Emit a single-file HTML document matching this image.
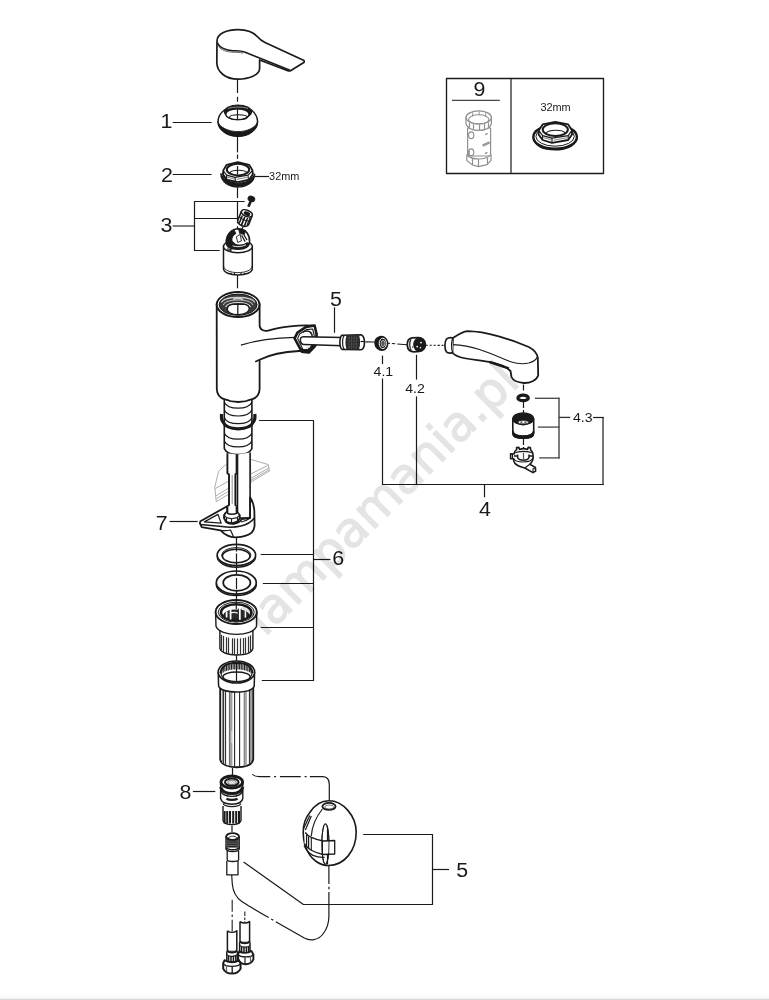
<!DOCTYPE html>
<html lang="pl"><head><meta charset="utf-8"><title>lampamania.pl</title>
<style>
html,body{margin:0;padding:0;background:#fff;}
body{width:769px;height:1000px;overflow:hidden;position:relative;font-family:"Liberation Sans",sans-serif;}
svg{position:absolute;left:0;top:0;display:block;will-change:transform;}
svg text{font-family:"Liberation Sans",sans-serif;}
.bar{position:absolute;left:0;top:994px;width:769px;height:6px;background:linear-gradient(#fdfdfd 0,#fbfbfb 66%,#f4f4f4 67%,#f0f0f0 83%,#dadada 84%,#d6d6d6 100%);}
</style></head><body>
<svg width="769" height="1000" viewBox="0 0 769 1000" stroke-linecap="butt" stroke-linejoin="round">
<g id="handle">
<path d="M217,41 C217,33.5 227,29.6 238,29.6 C247,29.6 253.5,32 257.5,36.8 C259.5,39.2 261.5,40.8 265,42.4 L304,60.6 L304.2,62.2 L290.5,70.8 L288.5,71 L259.6,60 L259.6,68.5 C259.6,75 249,79.2 238,79.2 C226,79.2 216.8,72.5 216.8,62 Z" stroke="#1a1a1a" stroke-width="1.7" fill="#fff" />
<path d="M217.3,42.5 C219,47.5 226,50.4 233,50.7 C238,50.9 241,50.6 244.5,52 L290,70.3" stroke="#1a1a1a" stroke-width="1.6" fill="none" />
<path d="M218.5,46.5 C221,50 227,52 233,52.2 C237,52.3 240,52.2 243,53.2" stroke="#1a1a1a" stroke-width="0.7" fill="none" />
</g>
<line x1="237.5" y1="79.5" x2="237.5" y2="93" stroke="#1a1a1a" stroke-width="1.2" />
<line x1="237.5" y1="96.8" x2="237.5" y2="101.8" stroke="#1a1a1a" stroke-width="1.2" />
<g id="p1">
<path d="M225,109.5 C221,112.5 218,117 218,121.5 C218,130 228,136.3 238,136.3 C248,136.3 257.6,130 257.6,121.5 C257.6,117 254.5,112.5 251,109.5" stroke="#1a1a1a" stroke-width="1.5" fill="#fff" />
<path d="M218,121.5 C218,130 228,136.3 238,136.3 C248,136.3 257.6,130 257.6,121.5 C256,127.6 247,131.6 238,131.6 C229,131.6 219.5,127.6 218,121.5 Z" stroke="#1a1a1a" stroke-width="0.8" fill="#1a1a1a" />
<ellipse cx="238" cy="111.8" rx="13.6" ry="6.8" stroke="#1a1a1a" stroke-width="1.2" fill="#1a1a1a" />
<path d="M228,108.6 C232,106.6 244,106.6 248,108.6" stroke="#bbb" stroke-width="0.7" fill="none" />
<ellipse cx="237.4" cy="114.3" rx="11.6" ry="5.4" stroke="#1a1a1a" stroke-width="1.3" fill="#fff" />
<ellipse cx="238.4" cy="117.2" rx="8.8" ry="2.4" stroke="#1a1a1a" stroke-width="1.1" fill="none" />
<line x1="237.5" y1="108.5" x2="237.5" y2="119" stroke="#1a1a1a" stroke-width="1.2" />
</g>
<line x1="237.5" y1="136.4" x2="237.5" y2="152.4" stroke="#1a1a1a" stroke-width="1.2" />
<line x1="237.5" y1="154.6" x2="237.5" y2="158.8" stroke="#1a1a1a" stroke-width="1.2" />
<text transform="translate(160.4,128) scale(1.07,1)" font-size="20" fill="#1a1a1a" text-anchor="start" >1</text>
<line x1="172.7" y1="122.5" x2="211.6" y2="122.5" stroke="#1a1a1a" stroke-width="1.2" />
<g id="p2">
<path d="M220.8,173.5 C220.8,182 229,187 238,187 C247,187 254.7,182 254.7,174 C253.4,179.6 246.5,183.2 238,183.2 C229.5,183.2 222.4,179.6 220.8,173.5 Z" stroke="#1a1a1a" stroke-width="1.2" fill="#1a1a1a" />
<path d="M222.4,172.6 C222.8,178.6 229.5,181.6 238,181.6 C246.5,181.6 252.8,178.6 253.2,172.6" stroke="#1a1a1a" stroke-width="1.2" fill="none" />
<path d="M223.2,170.5 L226.6,164.8 L237.8,162.2 L249.2,164.8 L252.6,170.5 L252.6,174.6 L249.2,179.6 L237.8,182 L226.6,179.6 L223.2,174.6 Z" stroke="#1a1a1a" stroke-width="1.7" fill="#fff" />
<path d="M223.2,170.5 L226.6,175.2 L235,177.4 L248,175.2 L252.6,170.5" stroke="#1a1a1a" stroke-width="1.2" fill="none" />
<line x1="226.6" y1="175.2" x2="226.6" y2="179.6" stroke="#1a1a1a" stroke-width="1.1" />
<line x1="235" y1="177.4" x2="235.4" y2="181.6" stroke="#1a1a1a" stroke-width="1.1" />
<line x1="248" y1="175.2" x2="248.4" y2="179.6" stroke="#1a1a1a" stroke-width="1.1" />
<path d="M227,177 L234.5,179.2 M236.5,179.4 L247.5,177.2" stroke="#666" stroke-width="0.8" fill="none" />
<ellipse cx="238" cy="169.6" rx="11.2" ry="5.8" stroke="#1a1a1a" stroke-width="2.0" fill="#fff" />
<path d="M229.8,172.6 C232,169.4 244.6,169.4 247,172.6" stroke="#1a1a1a" stroke-width="1.1" fill="none" />
<line x1="237.5" y1="166" x2="237.5" y2="174.6" stroke="#1a1a1a" stroke-width="1.2" />
</g>
<text transform="translate(160.9,182) scale(1.07,1)" font-size="20" fill="#1a1a1a" text-anchor="start" >2</text>
<line x1="172.7" y1="174.5" x2="211.6" y2="174.5" stroke="#1a1a1a" stroke-width="1.2" />
<line x1="254.8" y1="176.5" x2="269" y2="176.5" stroke="#1a1a1a" stroke-width="1.2" />
<text transform="translate(269.1,179.6) scale(1.07,1)" font-size="10.2" fill="#1a1a1a" text-anchor="start" >32mm</text>
<line x1="237.5" y1="187" x2="237.5" y2="198" stroke="#1a1a1a" stroke-width="1.2" />
<text transform="translate(160.4,232.3) scale(1.07,1)" font-size="20" fill="#1a1a1a" text-anchor="start" >3</text>
<line x1="172.7" y1="226" x2="194.1" y2="226" stroke="#333" stroke-width="1.25" />
<path d="M244.7,201.5 L194.5,201.5 L194.5,250.5 L219.7,250.5" stroke="#1a1a1a" stroke-width="1.2" fill="none" />
<line x1="194.1" y1="218.5" x2="237.4" y2="218.5" stroke="#1a1a1a" stroke-width="1.2" />
<line x1="237.5" y1="201.2" x2="237.5" y2="218.3" stroke="#1a1a1a" stroke-width="1.2" />
<line x1="237.5" y1="218.3" x2="237.5" y2="229" stroke="#1a1a1a" stroke-width="1.2" stroke-dasharray="5 3"/>
<g id="p3">
<path d="M250.8,201 L248.4,206.8" stroke="#1a1a1a" stroke-width="2.6" fill="none" />
<ellipse cx="251.4" cy="198.9" rx="3.4" ry="2.6" stroke="#1a1a1a" stroke-width="1" fill="#1a1a1a" transform="rotate(20 251.4 198.9)"/>
<g transform="rotate(22 245 218)">
<path d="M239.2,213 L239.2,222.5 C239.2,224.8 242,226.4 245,226.4 C248,226.4 250.8,224.8 250.8,222.5 L250.8,213" stroke="#1a1a1a" stroke-width="1.6" fill="#fff" />
<ellipse cx="245" cy="213" rx="5.8" ry="3.1" stroke="#1a1a1a" stroke-width="1.6" fill="#fff" />
<ellipse cx="245.2" cy="213.2" rx="2.8" ry="1.5" stroke="#1a1a1a" stroke-width="1.2" fill="#1a1a1a" />
<line x1="241.6" y1="216.6" x2="241.6" y2="225.4" stroke="#1a1a1a" stroke-width="1.5" />
<line x1="244.4" y1="217.2" x2="244.4" y2="226.2" stroke="#1a1a1a" stroke-width="1.7" />
<line x1="247.4" y1="217" x2="247.4" y2="225.8" stroke="#1a1a1a" stroke-width="1.5" />
<line x1="249.6" y1="216" x2="249.6" y2="224" stroke="#1a1a1a" stroke-width="1.1" />
<path d="M239.2,218.6 C241,220.6 249,220.6 250.8,218.6" stroke="#1a1a1a" stroke-width="1.1" fill="none" />
</g>
<line x1="243" y1="227" x2="241" y2="231" stroke="#1a1a1a" stroke-width="1.2" />
<path d="M223.5,246 L223.5,268.5 C223.5,272.5 230,275 237.9,275 C246,275 252.3,272.5 252.3,268.5 L252.3,246" stroke="#1a1a1a" stroke-width="1.5" fill="#fff" />
<path d="M223.5,266 C224,270 230,272.6 237.9,272.6 C246,272.6 251.8,270 252.3,266" stroke="#1a1a1a" stroke-width="0.9" fill="none" />
<line x1="231" y1="272.8" x2="231" y2="274.6" stroke="#1a1a1a" stroke-width="1.2" />
<line x1="234.5" y1="273" x2="234.5" y2="275" stroke="#1a1a1a" stroke-width="1.2" />
<line x1="241" y1="273" x2="241" y2="275" stroke="#1a1a1a" stroke-width="1.2" />
<line x1="244.5" y1="272.8" x2="244.5" y2="274.6" stroke="#1a1a1a" stroke-width="1.2" />
<ellipse cx="237.9" cy="246.5" rx="14.4" ry="6.2" stroke="#1a1a1a" stroke-width="1.5" fill="#fff" />
<path d="M226.2,243 C226,235 231,229 238.5,228.8 C246,229 249.8,235 249.6,242 C249,247 244,249.3 238,249.3 C231,249.3 226.6,247 226.2,243 Z" stroke="#1a1a1a" stroke-width="1.6" fill="#fff" />
<path d="M226.4,242 C226.4,236.5 229.5,231.5 234,229.8 L236,233.5 C233,235 231.5,238 232,241 L236,244.6 C240,245.6 244.5,244.8 247,242.6 L249.4,243.4 C248,247.6 243,249 238,249 C231.5,249 227,246.6 226.4,242 Z" stroke="#1a1a1a" stroke-width="0.8" fill="#1a1a1a" />
<path d="M238.6,229 L245.6,230.4 L244.4,234.6 L239.6,233.6 Z" stroke="#1a1a1a" stroke-width="0.8" fill="#1a1a1a" />
<path d="M236.4,236.6 L240.2,234.4 L241.4,241 L237.6,242.4 Z" stroke="#1a1a1a" stroke-width="0.9" fill="#fff" />
<path d="M241.6,235.4 L245.2,241.6 M243.8,234.6 L247,240" stroke="#1a1a1a" stroke-width="1.2" fill="none" />
<path d="M232.6,245.8 C236,247.2 242,247 246,244.8" stroke="#fff" stroke-width="0.9" fill="none" />
<path d="M228,247.4 L228,250.4 L231,251.4" stroke="#1a1a1a" stroke-width="1.1" fill="none" />
<path d="M229.6,248.6 L231.4,250.6" stroke="#1a1a1a" stroke-width="1.8" fill="none" />
</g>
<line x1="237.5" y1="275" x2="237.5" y2="288.3" stroke="#1a1a1a" stroke-width="1.2" />
<g id="body">
<path d="M216.7,304 L216.8,389 C217,395 220,398 224.6,399.3 C230,401.7 234,402 238.2,402 C242.4,402 246.6,401.7 251.9,399.3 C256.6,398 259.4,395 259.6,389 L259.6,359.8 C270,354.5 285,351.6 299,351 L301.8,351 L308.8,352.3 L314.2,345.5 L316.6,333.8 L313.5,325.7 C300,324.6 280,327 268,330.6 C263,331.5 259.6,329.5 259.6,325 L259.6,304 Z" stroke="#1a1a1a" stroke-width="1.8" fill="#fff" />
<path d="M259.6,359.8 C258,360.5 256.5,361.2 255.2,361.8" stroke="#1a1a1a" stroke-width="1.6" fill="none" />
<path d="M240.9,345.2 C255,340.5 275,337.6 295.5,337.3" stroke="#1a1a1a" stroke-width="1.3" fill="none" />
<path d="M314.6,325.5 L316.6,334.5 L315,346.2 L308.8,352.5 L301.8,351.7 L294.6,338.4 L297.5,332.6 L306.1,326.9 Z" stroke="#1a1a1a" stroke-width="2.6" fill="#fff" />
<path d="M312.6,329 L314.2,335 L312.8,344.6 L308,350 L303,349.4 L297.6,338.6 L299.6,334 L306.4,329.6 Z" stroke="#1a1a1a" stroke-width="1.1" fill="#fff" />
<path d="M315,346.2 L308.8,352.5 L301.8,351.7 L299,346.4 C301,349 304,350.4 307,349.6 C310,348.6 312.6,345.6 313.6,342 Z" stroke="#1a1a1a" stroke-width="0.8" fill="#1a1a1a" />
<path d="M302.6,332.4 C305,330.6 308.6,330.6 310.6,332.4 C312,334 312.4,336 312.2,337" stroke="#1a1a1a" stroke-width="1.6" fill="none" />
<path d="M306,347.8 L309.6,346.8" stroke="#ddd" stroke-width="1.4" fill="none" />
<path d="M342.5,337.6 L303.5,336.8 C300.6,336.8 300.2,338.6 300.4,340.6 C300.6,343 301.4,344.4 304,344.4 L342.5,345.8" stroke="#1a1a1a" stroke-width="1.5" fill="#fff" />
<ellipse cx="238.1" cy="304.6" rx="21.4" ry="12.5" stroke="#1a1a1a" stroke-width="2.0" fill="#fff" />
<ellipse cx="238.1" cy="304.7" rx="19.0" ry="10.6" stroke="#1a1a1a" stroke-width="1.0" fill="#3a3a3a" />
<path d="M221.5,302.5 C224,295.6 252,295.6 254.8,302.5" stroke="#d0d0d0" stroke-width="1.2" fill="none" />
<path d="M223.2,305 C226,298.4 250,298.4 253,305" stroke="#b5b5b5" stroke-width="1.1" fill="none" />
<path d="M225.6,307 C228.6,301 247.6,301 250.6,307" stroke="#e2e2e2" stroke-width="1.2" fill="none" />
<path d="M233,299.4 C236,298.2 240,298.2 243.2,299.4" stroke="#ccc" stroke-width="1.6" fill="none" />
<path d="M227.4,309.2 C227.4,306.4 229.6,304.8 232.6,304.4 L243.6,304.2 C246.8,304.6 249,306.2 249.2,308.8 C249.2,311.6 245,314.6 238.2,314.6 C231.4,314.6 227.4,312 227.4,309.2 Z" stroke="#1a1a1a" stroke-width="1.2" fill="#fff" />
<line x1="237.8" y1="303" x2="237.8" y2="314.6" stroke="#1a1a1a" stroke-width="1.3" />
</g>
<g id="hoseend">
<path d="M342,335.2 C339.2,336.8 339.2,347.6 342,349.4 L361,349.8 C365.6,348.4 365.6,336.4 361,334.8 Z" stroke="#1a1a1a" stroke-width="1.6" fill="#fff" />
<path d="M344.4,335.4 C342,337 342,347.6 344.4,349.2" stroke="#1a1a1a" stroke-width="1.2" fill="none" />
<path d="M347,335 C345,337 345,347.8 347,349.6 L358.4,349.8 C360.6,348 360.6,336.6 358.4,334.8 Z" fill="#262626"/>
<line x1="349.2" y1="335.4" x2="349.2" y2="349.4" stroke="#777" stroke-width="0.4" />
<line x1="351.6" y1="335.4" x2="351.6" y2="349.4" stroke="#777" stroke-width="0.4" />
<line x1="354" y1="335.4" x2="354" y2="349.4" stroke="#777" stroke-width="0.4" />
<line x1="356.4" y1="335.4" x2="356.4" y2="349.4" stroke="#777" stroke-width="0.4" />
<line x1="346.4" y1="338" x2="359.4" y2="338" stroke="#777" stroke-width="0.35" />
<line x1="346.4" y1="341" x2="359.4" y2="341" stroke="#777" stroke-width="0.35" />
<line x1="346.4" y1="344" x2="359.4" y2="344" stroke="#777" stroke-width="0.35" />
<line x1="346.4" y1="347" x2="359.4" y2="347" stroke="#777" stroke-width="0.35" />
<line x1="360.5" y1="341.5" x2="364.5" y2="341.5" stroke="#1a1a1a" stroke-width="1.2" />
</g>
<text transform="translate(330,305.8) scale(1.07,1)" font-size="20" fill="#1a1a1a" text-anchor="start" >5</text>
<line x1="334.5" y1="307.3" x2="334.5" y2="332.8" stroke="#1a1a1a" stroke-width="1.2" />
<line x1="365.4" y1="341.9" x2="374.7" y2="342" stroke="#1a1a1a" stroke-width="1.2" />
<g id="p41">
<path d="M380,336.6 C376.4,337.6 374.7,340.6 375,343.6 C375.4,347.6 378.6,350.4 382.4,350.2 C386,350 387.9,346.6 387.7,343 C387.4,338.8 384,335.8 380,336.6 Z" stroke="#1a1a1a" stroke-width="1.4" fill="#1a1a1a" />
<ellipse cx="382.8" cy="343.4" rx="3.6" ry="5.2" stroke="#fff" stroke-width="1.0" fill="#1a1a1a" />
<ellipse cx="383" cy="343.4" rx="2.0" ry="3.2" stroke="#bbb" stroke-width="0.9" fill="#555" />
</g>
<path d="M387.9,343.2 L407,344.8" stroke="#1a1a1a" stroke-width="1.1" stroke-dasharray="2 2 3.4 2 12 0" fill="none"/>
<g id="p42">
<path d="M412,337.8 C408.4,338.4 407,342 407.3,345.6 C407.7,349.6 410.4,351.8 414,351.8 L419.6,351.4 C423.6,350.8 425.6,347.6 425.3,344 C424.9,340 422,337.4 418,337.6 Z" stroke="#1a1a1a" stroke-width="1.8" fill="#fff" />
<ellipse cx="419.2" cy="344.6" rx="5.4" ry="6.6" stroke="#1a1a1a" stroke-width="1.2" fill="#1a1a1a" />
<path d="M411,339.4 C409.2,342 409.2,348 411.4,350.6" stroke="#1a1a1a" stroke-width="1.2" fill="none" />
<circle cx="417.2" cy="346.6" r="0.9" fill="#fff"/><circle cx="421" cy="342.6" r="0.9" fill="#fff"/><circle cx="420.4" cy="347.8" r="0.8" fill="#fff"/><circle cx="412.6" cy="347" r="0.7" fill="#333"/>
</g>
<path d="M425.6,345.2 L443.4,345.4" stroke="#1a1a1a" stroke-width="1.1" stroke-dasharray="2.2 1.8" fill="none"/>
<line x1="382.5" y1="355.6" x2="382.5" y2="364.1" stroke="#1a1a1a" stroke-width="1.2" />
<text transform="translate(373.6,376) scale(1.07,1)" font-size="13.2" fill="#1a1a1a" text-anchor="start" >4.1</text>
<line x1="382.5" y1="378.5" x2="382.5" y2="484.3" stroke="#1a1a1a" stroke-width="1.2" />
<line x1="416.5" y1="354.8" x2="416.5" y2="379.6" stroke="#1a1a1a" stroke-width="1.2" />
<text transform="translate(405.2,392.8) scale(1.07,1)" font-size="13.2" fill="#1a1a1a" text-anchor="start" >4.2</text>
<line x1="416.5" y1="396.4" x2="416.5" y2="484.3" stroke="#1a1a1a" stroke-width="1.2" />
<line x1="381.9" y1="484.5" x2="603.6" y2="484.5" stroke="#1a1a1a" stroke-width="1.2" />
<line x1="603" y1="417" x2="603" y2="485" stroke="#2c2c2c" stroke-width="1.3" />
<line x1="593.2" y1="417.5" x2="603.6" y2="417.5" stroke="#1a1a1a" stroke-width="1.2" />
<line x1="484.5" y1="484" x2="484.5" y2="497.3" stroke="#1a1a1a" stroke-width="1.2" />
<text transform="translate(479,516.3) scale(1.07,1)" font-size="20" fill="#1a1a1a" text-anchor="start" >4</text>
<g id="shower">
<path d="M453,338 C457,335.4 462.4,331.6 467.4,331.2 C486,331.4 512,339.5 528.8,347 C533.5,349.5 537,353 537.8,357.5 L538.2,375.5 C536.5,380.5 530,383.2 523.9,383 C518,382.6 513,380.5 511.5,377 L510.5,371 C506,366.5 498,363.5 489.3,361.9 C478,360 466,359 459.7,357 C455.8,355.8 453.4,354.2 452.4,352.4 Z" stroke="#1a1a1a" stroke-width="1.8" fill="#fff" />
<path d="M452.6,344.6 C460,345 471,346.8 479.4,349.5 C492,353.5 502,358.5 511.5,362 C518,364 524,364 528.8,363 C533.5,361.8 536.5,359.5 537.6,356.5" stroke="#1a1a1a" stroke-width="1.1" fill="none" />
<path d="M489.3,361.9 C496,364.5 503,366.5 509,368.5" stroke="#1a1a1a" stroke-width="2.2" fill="none" />
<path d="M453.2,338.2 C451.4,337.4 448.2,337.6 446.4,339.2 C444.4,341.6 444.4,349.4 446.4,351.8 C448.2,353.4 451.4,353.4 452.8,352.6" stroke="#1a1a1a" stroke-width="1.7" fill="#fff" />
<path d="M453,338.2 C451.2,341 451.2,349.8 452.8,352.6" stroke="#1a1a1a" stroke-width="1.3" fill="none" />
</g>
<line x1="523.5" y1="384.5" x2="523.5" y2="392.5" stroke="#1a1a1a" stroke-width="1.2" stroke-dasharray="6 2"/>
<ellipse cx="523.1" cy="397.9" rx="5.2" ry="2.7" stroke="#1a1a1a" stroke-width="3.2" fill="#fff" />
<line x1="523.5" y1="402" x2="523.5" y2="413" stroke="#1a1a1a" stroke-width="1.2" stroke-dasharray="6 2"/>
<g id="aer">
<path d="M512.8,418.6 L512.8,433.2 C512.8,436.4 517,438.3 523.2,438.3 C529.4,438.3 533.7,436.4 533.7,433.2 L533.7,418.6" stroke="#1a1a1a" stroke-width="1.6" fill="#fff" />
<path d="M512.8,430.6 C513.5,434 517.5,435.8 523.2,435.8 C529,435.8 533,434 533.7,430.6 L533.7,433.2 C533.7,436.4 529.4,438.3 523.2,438.3 C517,438.3 512.8,436.4 512.8,433.2 Z" stroke="#1a1a1a" stroke-width="1.2" fill="#1a1a1a" />
<ellipse cx="523.2" cy="418.8" rx="10.4" ry="5.9" stroke="#1a1a1a" stroke-width="1.4" fill="#1a1a1a" />
<ellipse cx="523.3" cy="422.2" rx="5.2" ry="1.6" stroke="#1a1a1a" stroke-width="0.6" fill="#fff" />
<ellipse cx="521.4" cy="422.3" rx="1.1" ry="0.7" fill="#444"/><ellipse cx="525.4" cy="422.3" rx="1.1" ry="0.7" fill="#444"/>
</g>
<line x1="523.5" y1="439" x2="523.5" y2="448.5" stroke="#1a1a1a" stroke-width="1.2" stroke-dasharray="6 2"/>
<g id="key">
<path d="M514,454 C514.4,451.6 515.6,450.2 516.6,449.6 L516.6,447.6 L518.8,447.4 L519.6,449.4 C521.6,448.6 525.4,448.6 527.4,449.4 L528.2,447.4 L530.4,447.6 L530.6,449.8 C532.4,451 533.2,454 533.2,457 C533.2,460 531.8,462.6 529.8,464.2 L535.4,467.4 L535.6,471 L533,472.6 L524.8,468 C520,466.8 517,465.6 515,463.4 C513.6,461.6 513.4,459.8 513.6,458.8 L510.6,458.8 L510.6,453.8 Z" stroke="#1a1a1a" stroke-width="1.6" fill="#fff" />
<path d="M515.4,453 C518,450.8 529,450.8 531.8,453" stroke="#1a1a1a" stroke-width="1.2" fill="none" />
<path d="M517.6,454.4 L517.6,457.6 C518.6,459.6 521,460.2 523.4,460.2 C526,460.2 528,459.6 529,457.6 L529,454.4" stroke="#1a1a1a" stroke-width="1.5" fill="none" />
<path d="M514,456 L517.6,456 M529,456 L533,456" stroke="#1a1a1a" stroke-width="1.3" fill="none" />
<path d="M513.8,458.6 C515.6,463.2 530.8,463.2 533,458" stroke="#1a1a1a" stroke-width="1.1" fill="none" />
<path d="M524.8,468 L529.8,464.2 M533,472.6 L533,468.8 L535.4,467.4" stroke="#1a1a1a" stroke-width="1.1" fill="none" />
<line x1="512.5" y1="454" x2="512.5" y2="458.8" stroke="#1a1a1a" stroke-width="1.2" />
<line x1="523.5" y1="452.6" x2="523.5" y2="459.6" stroke="#555" stroke-width="1.2" />
</g>
<line x1="534.9" y1="398.3" x2="559.6" y2="398.3" stroke="#444" stroke-width="1.3" />
<line x1="537.9" y1="427.1" x2="559.6" y2="427.1" stroke="#444" stroke-width="1.3" />
<line x1="539.2" y1="457.9" x2="559.6" y2="457.9" stroke="#444" stroke-width="1.3" />
<line x1="559" y1="397.7" x2="559" y2="458.5" stroke="#444" stroke-width="1.4" />
<line x1="559" y1="417.4" x2="570.2" y2="417.4" stroke="#333" stroke-width="1.3" />
<text transform="translate(573,421.9) scale(1.07,1)" font-size="13.2" fill="#1a1a1a" text-anchor="start" >4.3</text>
<g id="shank">
<path d="M227.4,463.2 L218.7,471 L214.8,487 L216.2,501.7 L229.6,493.6 L229.6,463.2 Z" stroke="#a4a4a4" stroke-width="0.9" fill="#fff" />
<path d="M215.4,488.6 L229.4,480.6 M216,495.8 L229.4,487.6 M216.2,498.8 L229.6,490.6" stroke="#a4a4a4" stroke-width="0.9" fill="none" />
<path d="M250.4,459.3 L268.4,464.6 L269.4,471 L250.9,482.2 Z" stroke="#a4a4a4" stroke-width="0.9" fill="#fff" />
<path d="M250.9,473.9 L267.6,465.6 M250.9,478.3 L268.9,467.8 M250.9,480.4 L269.2,469.6" stroke="#a4a4a4" stroke-width="0.9" fill="none" />
<path d="M224.3,400 L224.3,448.6 C228,456.6 248,456.6 251.9,448.6 L251.9,400" stroke="#1a1a1a" stroke-width="1.6" fill="#fff" />
<path d="M224.3,402.2 C228,410.2 248,410.2 251.9,402.2" stroke="#1a1a1a" stroke-width="1.2" fill="none" />
<path d="M224.3,410 C228,418 248,418 251.9,410" stroke="#1a1a1a" stroke-width="1.2" fill="none" />
<path d="M224.3,417.7 C228,425.7 248,425.7 251.9,417.7" stroke="#1a1a1a" stroke-width="1.2" fill="none" />
<path d="M224.3,433.2 C228,441.2 248,441.2 251.9,433.2" stroke="#1a1a1a" stroke-width="1.2" fill="none" />
<path d="M224.3,440.9 C228,448.9 248,448.9 251.9,440.9" stroke="#1a1a1a" stroke-width="1.2" fill="none" />
<path d="M221.6,414 C221.2,417 221.4,419.6 222.6,421.4 C225,426.6 231,428.8 238.2,428.8 C245.4,428.8 251.4,426.6 253.8,421.4 C255,419.6 255.2,417 254.8,414" stroke="#1a1a1a" stroke-width="3.2" fill="none" />
<path d="M225.6,421.4 C228,424.4 232.6,425.6 238.2,425.6 C243.8,425.6 248.4,424.4 250.8,421.4" stroke="#eee" stroke-width="0.8" fill="none" />
<path d="M224.6,399.3 C230,401.7 234,402 238.2,402 C242.4,402 246.6,401.7 251.9,399.3" stroke="#1a1a1a" stroke-width="1.8" fill="none" />
<path d="M250.1,452.6 L250.1,518 L237.5,518 L237.5,454.6" stroke="#1a1a1a" stroke-width="1.6" fill="#fff" />
<path d="M227.4,453.2 L227.4,473.2 L229,474.5 L229,505 L227.4,506.5 L227.4,511 L236.6,511 L236.6,506.5 L235.4,505 L235.4,474.5 L236.6,473.2 L236.6,454.6" stroke="#1a1a1a" stroke-width="1.9" fill="#fff" />
<line x1="232.2" y1="475" x2="232.2" y2="504" stroke="#777" stroke-width="0.8" />
</g>
<path d="M259.1,420.5 L313.5,420.5 L313.5,680.5 L261.8,680.5" stroke="#1a1a1a" stroke-width="1.2" fill="none" />
<line x1="260.7" y1="554.5" x2="313.5" y2="554.5" stroke="#1a1a1a" stroke-width="1.2" />
<line x1="262.8" y1="583.5" x2="313.5" y2="583.5" stroke="#1a1a1a" stroke-width="1.2" />
<line x1="260.7" y1="627.5" x2="313.5" y2="627.5" stroke="#1a1a1a" stroke-width="1.2" />
<line x1="313.5" y1="559.5" x2="330.4" y2="559.5" stroke="#1a1a1a" stroke-width="1.2" />
<text transform="translate(332.3,565.4) scale(1.07,1)" font-size="20" fill="#1a1a1a" text-anchor="start" >6</text>
<g id="p7">
<path d="M199.8,523.2 L200.4,521.3 L227.1,506.3 L227.1,512 C223,514 223,520 228,522.5 C233,524.5 240,523.5 241.5,519 L250.1,518 L250.1,497.2 C252.5,501 254.4,507 254.4,512.8 L254.6,525.8 C254,531 250,534.5 245.9,535.6 C243,536.8 239,537.3 235.5,537.3 C232.5,537.3 229.5,536.6 227.7,535.6 C225,534.5 222.5,532.5 220.6,530.4 L201.7,527.1 Z" stroke="#1a1a1a" stroke-width="1.8" fill="#fff" />
<path d="M200.4,524.6 L222,526.6 C228,527.4 236,527.2 241,526 C246,524.8 251,522.5 254.4,518" stroke="#1a1a1a" stroke-width="1.5" fill="none" />
<path d="M204.3,521.9 L218,514.4 L221.2,523.2 Z" stroke="#1a1a1a" stroke-width="1.2" fill="none" />
<path d="M250.1,518 C247,520.5 244,521.5 241,522" stroke="#1a1a1a" stroke-width="1.2" fill="none" />
<path d="M220.6,530.4 C224,530.8 228,530.6 230.5,530 L233.5,536.8" stroke="#1a1a1a" stroke-width="1.2" fill="none" />
<path d="M224.2,515 L226.4,512 L231.6,511 L237.2,512 L239.8,515 L239.8,518.4 L237.2,521.6 L231.6,523.2 L226.4,521.8 L224.2,518.6 Z" stroke="#1a1a1a" stroke-width="1.7" fill="#fff" />
<path d="M224.2,515 L226.4,517.6 L231.6,518.8 L237.2,517.6 L239.8,515" stroke="#1a1a1a" stroke-width="1.1" fill="none" />
<line x1="226.5" y1="517.6" x2="226.5" y2="521.8" stroke="#1a1a1a" stroke-width="1.2" />
<line x1="231.5" y1="518.8" x2="231.5" y2="523.2" stroke="#1a1a1a" stroke-width="1.2" />
<line x1="237.5" y1="517.6" x2="237.5" y2="521.6" stroke="#1a1a1a" stroke-width="1.2" />
<path d="M225.2,521 C227.6,524.6 236,524.6 238.8,521.2" stroke="#1a1a1a" stroke-width="1.8" fill="none" />
<path d="M227.6,506.5 L227.6,513.4 C229,514.6 234.8,514.6 236.4,513.4 L236.4,506.5" stroke="#1a1a1a" stroke-width="1.5" fill="#fff"/>
</g>
<text transform="translate(155.7,529.6) scale(1.07,1)" font-size="20" fill="#1a1a1a" text-anchor="start" >7</text>
<line x1="169.6" y1="521.5" x2="197.7" y2="521.5" stroke="#1a1a1a" stroke-width="1.2" />
<g id="wash">
<ellipse cx="236.4" cy="556.6" rx="19.2" ry="10.6" stroke="#1a1a1a" stroke-width="1.4" fill="#fff" />
<ellipse cx="236.4" cy="555" rx="19.2" ry="10.6" stroke="#1a1a1a" stroke-width="1.6" fill="#fff" />
<ellipse cx="236.3" cy="555.2" rx="14.6" ry="7.6" stroke="#1a1a1a" stroke-width="1.0" fill="#fff" />
<ellipse cx="236.2" cy="556" rx="13.8" ry="6.8" stroke="#1a1a1a" stroke-width="1.6" fill="#fff" />
<ellipse cx="236.3" cy="584.6" rx="20.0" ry="11.0" stroke="#1a1a1a" stroke-width="1.5" fill="#fff" />
<ellipse cx="236.3" cy="582.6" rx="20.0" ry="11.6" stroke="#1a1a1a" stroke-width="1.7" fill="#fff" />
<ellipse cx="236.8" cy="582.8" rx="13.6" ry="8.0" stroke="#1a1a1a" stroke-width="1.8" fill="#fff" />
</g>
<line x1="236.5" y1="537.6" x2="236.5" y2="551.6" stroke="#1a1a1a" stroke-width="1.2" />
<line x1="236.5" y1="553.4" x2="236.5" y2="575" stroke="#1a1a1a" stroke-width="1.2" />
<line x1="236.5" y1="578" x2="236.5" y2="589.2" stroke="#1a1a1a" stroke-width="1.2" />
<line x1="236.5" y1="590.8" x2="236.5" y2="600.2" stroke="#1a1a1a" stroke-width="1.2" />
<g id="nut6">
<path d="M219.9,630 L219.9,648.3 C221,652.6 228,655 236.4,655 C245,655 251.8,652.6 252.9,648.3 L252.9,630" stroke="#1a1a1a" stroke-width="1.4" fill="#fff" />
<line x1="221.5" y1="634.9" x2="221.5" y2="651.2" stroke="#333" stroke-width="1.2" />
<line x1="223.5" y1="635.9" x2="223.5" y2="652.2" stroke="#333" stroke-width="1.2" />
<line x1="226.5" y1="637.2" x2="226.5" y2="653.5" stroke="#333" stroke-width="1.2" />
<line x1="228.5" y1="637.7" x2="228.5" y2="654.0" stroke="#333" stroke-width="1.2" />
<line x1="232.5" y1="638.3" x2="232.5" y2="654.6" stroke="#333" stroke-width="1.2" />
<line x1="234.5" y1="638.4" x2="234.5" y2="654.7" stroke="#333" stroke-width="1.2" />
<line x1="237.5" y1="638.5" x2="237.5" y2="654.8" stroke="#333" stroke-width="1.2" />
<line x1="240.5" y1="638.3" x2="240.5" y2="654.6" stroke="#333" stroke-width="1.2" />
<line x1="243.5" y1="638.0" x2="243.5" y2="654.3" stroke="#333" stroke-width="1.2" />
<line x1="245.5" y1="637.5" x2="245.5" y2="653.8" stroke="#333" stroke-width="1.2" />
<line x1="248.5" y1="636.5" x2="248.5" y2="652.8" stroke="#333" stroke-width="1.2" />
<line x1="250.5" y1="635.3" x2="250.5" y2="651.6" stroke="#333" stroke-width="1.2" />
<path d="M215.6,612 L216,626.3 C218,631.6 227,634.4 236.4,634.4 C246,634.4 254.5,631.6 256.5,626.3 L256.8,612" stroke="#1a1a1a" stroke-width="1.4" fill="#fff" />
<ellipse cx="236.2" cy="612" rx="20.6" ry="12" stroke="#1a1a1a" stroke-width="1.9" fill="#fff" />
<ellipse cx="236.2" cy="612.2" rx="18.0" ry="10.0" stroke="#1a1a1a" stroke-width="1.0" fill="none" />
<ellipse cx="236.2" cy="612.4" rx="15.2" ry="8.2" stroke="#1a1a1a" stroke-width="2.6" fill="#fff" />
<path d="M223.4,615.6 C226,608.4 246.6,608.4 249.4,615.6 C246.6,620.6 226,620.6 223.4,615.6 Z" stroke="#1a1a1a" stroke-width="1.2" fill="#2a2a2a" />
<path d="M226.6,611.4 L226.6,617.6 M230.6,609.2 L230.6,619.4" stroke="#fff" stroke-width="1.7" fill="none" />
<path d="M239.8,608.8 L239.8,619.8" stroke="#fff" stroke-width="2.6" fill="none" />
<path d="M245.4,611 L245.4,617.6" stroke="#fff" stroke-width="1.5" fill="none" />
<path d="M229.6,613.6 C232,612 236,612 238,613.4" stroke="#eee" stroke-width="1.1" fill="none" />
<line x1="238.4" y1="608.6" x2="238.4" y2="620" stroke="#1a1a1a" stroke-width="0.9" />
<line x1="241.2" y1="608.8" x2="241.2" y2="619.8" stroke="#1a1a1a" stroke-width="0.9" />
<line x1="236.3" y1="601" x2="236.3" y2="609" stroke="#1a1a1a" stroke-width="1.2" />
</g>
<line x1="236.5" y1="655" x2="236.5" y2="661.4" stroke="#1a1a1a" stroke-width="1.2" />
<g id="sleeve">
<path d="M220.2,684 L220.2,759.4 C221,764.6 228,767.2 236.6,767.2 C245.4,767.2 252.4,764.6 253.2,759.4 L253.2,684" stroke="#1a1a1a" stroke-width="1.9" fill="#fff" />
<line x1="222.5" y1="688.8" x2="222.5" y2="762.8" stroke="#999" stroke-width="1.2" />
<line x1="223.5" y1="689.4" x2="223.5" y2="763.6" stroke="#333" stroke-width="1.2" />
<line x1="225.5" y1="690.1" x2="225.5" y2="764.5" stroke="#333" stroke-width="1.2" />
<line x1="231" y1="691.2" x2="231" y2="765.9" stroke="#a0a0a0" stroke-width="2.8" />
<line x1="229.4" y1="691.0" x2="229.4" y2="765.6" stroke="#444" stroke-width="0.8" />
<line x1="234.6" y1="691.6" x2="234.6" y2="766.3" stroke="#222" stroke-width="1.1" />
<line x1="239.6" y1="691.5" x2="239.6" y2="766.3" stroke="#222" stroke-width="1.1" />
<line x1="245.6" y1="690.6" x2="245.6" y2="765.2" stroke="#a8a8a8" stroke-width="2.6" />
<line x1="244.2" y1="690.9" x2="244.2" y2="765.5" stroke="#555" stroke-width="0.8" />
<line x1="249.5" y1="689.6" x2="249.5" y2="763.8" stroke="#333" stroke-width="1.2" />
<line x1="251" y1="688.5" x2="251" y2="762.5" stroke="#666" stroke-width="1.2" />
<line x1="232" y1="731" x2="232" y2="743" stroke="#fff" stroke-width="0.9" />
<path d="M218.2,672 L218.6,686 C220,690 228,692 236.4,692 C245,692 252.8,690 254.2,686 L254.6,672" stroke="#1a1a1a" stroke-width="1.5" fill="#fff" />
<ellipse cx="236.4" cy="672" rx="18.2" ry="11" stroke="#1a1a1a" stroke-width="1.6" fill="#fff" />
<path d="M220.6,673 C221.4,666 228,662.8 236.4,662.8 C245,662.8 251.6,666 252.4,673" stroke="#1a1a1a" stroke-width="2.2" fill="none" />
<line x1="221.6" y1="669.7" x2="221.6" y2="673.7" stroke="#222" stroke-width="1.15" />
<line x1="223.24" y1="667.8" x2="223.24" y2="672.4" stroke="#222" stroke-width="1.15" />
<line x1="224.88" y1="666.6" x2="224.88" y2="671.5" stroke="#222" stroke-width="1.15" />
<line x1="226.52" y1="665.7" x2="226.52" y2="670.9" stroke="#222" stroke-width="1.15" />
<line x1="228.16" y1="665.0" x2="228.16" y2="670.4" stroke="#222" stroke-width="1.15" />
<line x1="229.8" y1="664.5" x2="229.8" y2="670.0" stroke="#222" stroke-width="1.15" />
<line x1="231.44" y1="664.1" x2="231.44" y2="669.7" stroke="#222" stroke-width="1.15" />
<line x1="233.08" y1="663.8" x2="233.08" y2="669.6" stroke="#222" stroke-width="1.15" />
<line x1="234.72" y1="663.7" x2="234.72" y2="669.4" stroke="#222" stroke-width="1.15" />
<line x1="236.36" y1="663.6" x2="236.36" y2="669.4" stroke="#222" stroke-width="1.15" />
<line x1="238.0" y1="663.6" x2="238.0" y2="669.4" stroke="#222" stroke-width="1.15" />
<line x1="239.64" y1="663.8" x2="239.64" y2="669.5" stroke="#222" stroke-width="1.15" />
<line x1="241.28" y1="664.0" x2="241.28" y2="669.7" stroke="#222" stroke-width="1.15" />
<line x1="242.92" y1="664.4" x2="242.92" y2="670.0" stroke="#222" stroke-width="1.15" />
<line x1="244.56" y1="664.9" x2="244.56" y2="670.3" stroke="#222" stroke-width="1.15" />
<line x1="246.2" y1="665.6" x2="246.2" y2="670.8" stroke="#222" stroke-width="1.15" />
<line x1="247.84" y1="666.4" x2="247.84" y2="671.4" stroke="#222" stroke-width="1.15" />
<line x1="249.48" y1="667.6" x2="249.48" y2="672.2" stroke="#222" stroke-width="1.15" />
<line x1="251.12" y1="669.3" x2="251.12" y2="673.4" stroke="#222" stroke-width="1.15" />
<path d="M220.8,673 C222,679.5 229,681.6 236.6,681.6 C244,681.6 251,679.5 252.2,673" stroke="#1a1a1a" stroke-width="1.2" fill="none" />
<ellipse cx="236.6" cy="676.8" rx="13.6" ry="4.8" stroke="#1a1a1a" stroke-width="1.4" fill="#fff" />
</g>
<line x1="236.5" y1="662" x2="236.5" y2="682" stroke="#1a1a1a" stroke-width="1.2" />
<g id="p8">
<path d="M223,806 L223,820.5 C224,823.4 228,824.6 232,824.6 C236,824.6 240,823.4 241,820.5 L241,806" stroke="#1a1a1a" stroke-width="1.4" fill="#fff" />
<line x1="224.6" y1="811" x2="224.6" y2="823.6" stroke="#1c1c1c" stroke-width="2.0" />
<line x1="227.2" y1="811" x2="227.2" y2="823.6" stroke="#1c1c1c" stroke-width="2.0" />
<line x1="230" y1="811" x2="230" y2="823.6" stroke="#1c1c1c" stroke-width="2.0" />
<line x1="233.2" y1="811" x2="233.2" y2="823.6" stroke="#1c1c1c" stroke-width="2.0" />
<line x1="236.2" y1="811" x2="236.2" y2="823.6" stroke="#1c1c1c" stroke-width="2.0" />
<line x1="239" y1="811" x2="239" y2="823.6" stroke="#1c1c1c" stroke-width="2.0" />
<path d="M220.6,782 L220.6,798.5 C221.5,802.6 226.5,804.2 232,804.2 C237.5,804.2 242,802.6 242.8,798.5 L242.8,782" stroke="#1a1a1a" stroke-width="1.4" fill="#fff" />
<path d="M220.6,787 C222,792 227,793.6 232,793.6 C237,793.6 241.5,792 242.8,787" stroke="#1a1a1a" stroke-width="3.0" fill="none" />
<path d="M220.8,790.5 C222,795 227,796.4 232,796.4 C237,796.4 241.5,795 242.8,790.5" stroke="#1a1a1a" stroke-width="1.2" fill="none" />
<path d="M226.5,798.8 C229,800.2 235,800.2 237.5,798.8" stroke="#1a1a1a" stroke-width="2.4" fill="none" />
<path d="M223,803.5 C225,807.6 239,807.6 241,803.5" stroke="#1a1a1a" stroke-width="1.2" fill="none" />
<ellipse cx="231.8" cy="782" rx="10.8" ry="6.0" stroke="#1a1a1a" stroke-width="2.8" fill="#fff" />
<ellipse cx="231.8" cy="782.2" rx="6.8" ry="3.6" stroke="#1a1a1a" stroke-width="2.0" fill="#fff" />
<ellipse cx="232" cy="782.4" rx="4.2" ry="2.2" stroke="#555" stroke-width="0.8" fill="#ddd" />
</g>
<line x1="232.5" y1="768" x2="232.5" y2="775.5" stroke="#1a1a1a" stroke-width="1.2" />
<text transform="translate(179.4,798.8) scale(1.07,1)" font-size="20" fill="#1a1a1a" text-anchor="start" >8</text>
<line x1="192.9" y1="791.5" x2="215.3" y2="791.5" stroke="#1a1a1a" stroke-width="1.2" />
<line x1="232" y1="825.5" x2="232" y2="832" stroke="#1a1a1a" stroke-width="1.2" />
<g id="hose2">
<path d="M226.8,861 L226.8,874.8 L238,874.8 L238,861" stroke="#1a1a1a" stroke-width="1.3" fill="#fff" />
<path d="M227.2,851 L227.2,860 C228,862 237.6,862 238.6,860 L238.6,851" stroke="#1a1a1a" stroke-width="1.3" fill="#fff" />
<path d="M226,836.5 L226,849 C227,852.4 238.2,852.4 239.2,849 L239.2,836.5" stroke="#1a1a1a" stroke-width="1.4" fill="#fff" />
<rect x="226.6" y="838.6" width="12" height="9" fill="#262626"/>
<line x1="226.8" y1="841" x2="238.6" y2="841" stroke="#aaa" stroke-width="0.5" />
<line x1="226.8" y1="843.2" x2="238.6" y2="843.2" stroke="#aaa" stroke-width="0.5" />
<line x1="226.8" y1="845.4" x2="238.6" y2="845.4" stroke="#aaa" stroke-width="0.5" />
<path d="M226,847.6 C228,850.4 237.2,850.4 239.2,847.6" stroke="#1a1a1a" stroke-width="1.6" fill="none" />
<ellipse cx="232.6" cy="836.5" rx="6.4" ry="3.4" stroke="#1a1a1a" stroke-width="1.9" fill="#fff" />
<path d="M228.4,838 C230,835.6 235.4,835.6 237,838" stroke="#1a1a1a" stroke-width="0.9" fill="none" />
</g>
<path d="M243.6,862 L303.4,904.5 L432.5,904.5 L432.5,834.5 L363.2,834.5" stroke="#1a1a1a" stroke-width="1.2" fill="none" />
<line x1="432.7" y1="869.5" x2="449" y2="869.5" stroke="#1a1a1a" stroke-width="1.2" />
<text transform="translate(456.3,877.3) scale(1.07,1)" font-size="20" fill="#1a1a1a" text-anchor="start" >5</text>
<path d="M252.2,774.4 C254,775.8 256.5,776.7 259.3,776.7 L323,776.7 C327,777 329.3,780 329.3,784.5 L329.3,800" stroke="#1a1a1a" stroke-width="1.2" fill="none" stroke-dasharray="18.5 3.9 1.9 3.9 20.8 3.9 2 3.2 80"/>
<path d="M328.9,866 L328.9,916 C328.9,923 327,929 323,934 C318,940.6 310,941 304.3,938 C290,930 250,907 241.8,901.4 C236,897.5 233,892 232.3,884 L231.7,875" stroke="#1a1a1a" stroke-width="1.2" fill="none" stroke-dasharray="18 2.8 2.4 2.8 97 2.8 2.4 2.8 100"/>
<g id="egg">
<path d="M329,800.8 C343,800.8 356.2,816 356.2,832 C356.2,851 344,865.5 328.5,865.5 C320,865.5 312,860 308,852 C305,847 303.4,840 303.2,833 C303,824 306,817 309.8,812.5 C314,806 321,800.8 329,800.8 Z" stroke="#1a1a1a" stroke-width="1.6" fill="#fff" />
<ellipse cx="329" cy="806.4" rx="6.6" ry="3.5" stroke="#1a1a1a" stroke-width="1.8" fill="#fff" />
<ellipse cx="329.2" cy="807" rx="4.4" ry="2.0" stroke="#555" stroke-width="0.8" fill="none" />
<path d="M322.4,809 C316,817 312,826 311.3,836" stroke="#1a1a1a" stroke-width="1.2" fill="none" />
<path d="M309.8,815.5 L303.6,828.5 M311.3,816 L305.4,830" stroke="#1a1a1a" stroke-width="1.2" fill="none" />
<ellipse cx="325.4" cy="844.1" rx="3.6" ry="20.3" stroke="#1a1a1a" stroke-width="1.1" fill="none" />
<line x1="327.5" y1="826.5" x2="327.5" y2="864.5" stroke="#1a1a1a" stroke-width="1.2" />
<path d="M305.2,832.5 C307,835 309,836.6 311.3,837.4 C315,839 319,840.4 323.3,841 L334.7,840.5 L334.7,854 L322.8,854.5 C318.5,853.6 314.5,852 311.3,850.3 C308.5,848.6 306,846.4 304.4,843.6" stroke="#1a1a1a" stroke-width="1.3" fill="#fff" />
<path d="M311.3,837.4 L311.3,850.3" stroke="#1a1a1a" stroke-width="1.1" fill="none" />
<path d="M322.4,841 L322.4,854.4" stroke="#1a1a1a" stroke-width="1.2" fill="none" />
<path d="M306.6,835 L306.6,846.6 M308.6,836.4 L308.6,848.4" stroke="#1a1a1a" stroke-width="1.2" fill="none" />
<path d="M304,845.5 C306,850 309.5,853.5 313,855.4 C317,857.2 321,857.6 324.6,857.4" stroke="#1a1a1a" stroke-width="1.2" fill="none" />
<ellipse cx="325.4" cy="844.1" rx="3.6" ry="20.3" stroke="#1a1a1a" stroke-width="0.9" fill="none" />
</g>
<path d="M232.2,899.8 L232.2,931.6" stroke="#333" stroke-width="1.2" stroke-dasharray="12 2.8 2.4 2.8 20" fill="none"/>
<path d="M244.8,911.5 L244.8,922.6" stroke="#333" stroke-width="1.2" stroke-dasharray="4.4 1.6 2.4 1.4 4" fill="none"/>
<g id="hoses">
<path d="M240,921.6 L240,942.4 L249.6,942.4 L249.6,921.6 C247,923.6 242.6,923.6 240,921.6" stroke="#1a1a1a" stroke-width="1.5" fill="#fff" />
<path d="M239.6,942.4 L239.6,953 L250,953 L250,942.4" stroke="#1a1a1a" stroke-width="1.5" fill="#fff" />
<path d="M239.8,941.4 C242,944 247.6,944 249.8,941.4" stroke="#1a1a1a" stroke-width="2.0" fill="none" />
<path d="M240,945.6 C242,947.6 247.6,947.6 250,945.6" stroke="#1a1a1a" stroke-width="1.2" fill="none" />
<line x1="241.6" y1="947" x2="241.6" y2="953.4" stroke="#1a1a1a" stroke-width="1.5" />
<line x1="244" y1="947" x2="244" y2="953.4" stroke="#1a1a1a" stroke-width="1.5" />
<line x1="246.4" y1="947" x2="246.4" y2="953.4" stroke="#1a1a1a" stroke-width="1.5" />
<line x1="248.6" y1="947" x2="248.6" y2="953.4" stroke="#1a1a1a" stroke-width="1.5" />
<path d="M238.2,954 L239.4,951.2 C242,953.4 248,953.4 251.4,951 L253.4,954.4 L253.4,959.4 C252,962.6 248.6,964.2 245.6,964.2 C242.4,964.2 239.6,962.6 238.2,959.4 Z" stroke="#1a1a1a" stroke-width="1.9" fill="#fff" />
<path d="M238.2,954.4 C240,957.8 251.6,957.8 253.4,954.4" stroke="#1a1a1a" stroke-width="1.2" fill="none" />
<line x1="245" y1="957.2" x2="245" y2="964" stroke="#1a1a1a" stroke-width="1.2" />
<line x1="250.5" y1="956" x2="250.5" y2="962.4" stroke="#666" stroke-width="1.2" />
<path d="M227.4,930.8 L227.4,951.6 L236.8,951.6 L236.8,930.8 C234,932.8 230,932.8 227.4,930.8" stroke="#1a1a1a" stroke-width="1.5" fill="#fff" />
<path d="M226.8,951.6 L226.8,962 L237.4,962 L237.4,951.6" stroke="#1a1a1a" stroke-width="1.5" fill="#fff" />
<path d="M227.2,950.6 C229,953.2 235,953.2 237,950.6" stroke="#1a1a1a" stroke-width="2.0" fill="none" />
<path d="M227,954.8 C229,956.8 235,956.8 237.4,954.8" stroke="#1a1a1a" stroke-width="1.2" fill="none" />
<line x1="228.6" y1="956" x2="228.6" y2="962.4" stroke="#1a1a1a" stroke-width="1.5" />
<line x1="231" y1="956" x2="231" y2="962.4" stroke="#1a1a1a" stroke-width="1.5" />
<line x1="233.4" y1="956" x2="233.4" y2="962.4" stroke="#1a1a1a" stroke-width="1.5" />
<line x1="235.8" y1="956" x2="235.8" y2="962.4" stroke="#1a1a1a" stroke-width="1.5" />
<path d="M223.2,963.2 L224.6,960.2 C228,962.8 235.6,962.8 238.8,960.2 L240.6,963.4 L240.6,968.6 C239,972 235.4,973.6 232,973.6 C228.6,973.6 224.8,972 223.2,968.6 Z" stroke="#1a1a1a" stroke-width="2.0" fill="#fff" />
<path d="M223.2,963.6 C225.4,967.2 238.4,967.2 240.6,963.6" stroke="#1a1a1a" stroke-width="1.2" fill="none" />
<line x1="232.2" y1="966.4" x2="232.2" y2="973.4" stroke="#1a1a1a" stroke-width="1.3" />
<line x1="226.5" y1="965.2" x2="226.5" y2="971.4" stroke="#666" stroke-width="1.2" />
</g>
<g id="box">
<rect x="446.5" y="78.5" width="157" height="95" fill="none" stroke="#1a1a1a" stroke-width="1.35"/>
<line x1="511" y1="78.8" x2="511" y2="173" stroke="#2a2a2a" stroke-width="1.3" />
<text transform="translate(473.5,96.2) scale(1.07,1)" font-size="20" fill="#1a1a1a" text-anchor="start" >9</text>
<line x1="452" y1="100.4" x2="499.8" y2="100.4" stroke="#444" stroke-width="1.1" />
<text transform="translate(540.4,110.8) scale(1.07,1)" font-size="10.2" fill="#1a1a1a" text-anchor="start" >32mm</text>
<path d="M467.6,128 L467.6,156 L490.6,156 L490.6,128 Z" stroke="#909090" stroke-width="1.2" fill="#fff" />
<path d="M466.8,155 L466.8,160.6 L472.5,165 L478.5,166.7 L487,164.6 L491,160.4 L491,154.6 C488,157.6 484,159 478.8,159 C473.5,159 469.5,157.6 466.8,155 Z" stroke="#909090" stroke-width="1.2" fill="#fff" />
<line x1="472.5" y1="158.6" x2="472.5" y2="165" stroke="#909090" stroke-width="1.2" />
<line x1="478.5" y1="159.2" x2="478.5" y2="166.7" stroke="#909090" stroke-width="1.2" />
<line x1="487.5" y1="158" x2="487.5" y2="164.6" stroke="#909090" stroke-width="1.2" />
<path d="M466,117.5 L466,124 C467.5,128.2 472.5,130.4 478.8,130.4 C485,130.4 490,128.2 491.4,124 L491.4,117.5" stroke="#909090" stroke-width="1.2" fill="#fff" />
<ellipse cx="478.7" cy="117.4" rx="12.7" ry="6.5" stroke="#909090" stroke-width="1.3" fill="#fff" />
<ellipse cx="478.8" cy="119.4" rx="10.2" ry="4.6" stroke="#909090" stroke-width="1.1" fill="none" />
<line x1="472.6" y1="112.4" x2="472.6" y2="116.2" stroke="#909090" stroke-width="0.9" />
<line x1="479.2" y1="111.4" x2="479.2" y2="115.2" stroke="#909090" stroke-width="0.9" />
<line x1="485.6" y1="112.8" x2="485.6" y2="116.6" stroke="#909090" stroke-width="0.9" />
<line x1="469.5" y1="122.6" x2="469.5" y2="127.6" stroke="#909090" stroke-width="1.2" />
<line x1="473.5" y1="124.2" x2="473.5" y2="129.6" stroke="#909090" stroke-width="1.2" />
<line x1="479.5" y1="124.6" x2="479.5" y2="130.2" stroke="#909090" stroke-width="1.2" />
<line x1="484.5" y1="124" x2="484.5" y2="129.6" stroke="#909090" stroke-width="1.2" />
<line x1="488.5" y1="122.4" x2="488.5" y2="127.6" stroke="#909090" stroke-width="1.2" />
<ellipse cx="471.2" cy="135.2" rx="2.6" ry="3.4" stroke="#909090" stroke-width="1.2" fill="none" />
<ellipse cx="471.2" cy="152.3" rx="2.6" ry="3.4" stroke="#909090" stroke-width="1.2" fill="none" />
<path d="M469.2,150.5 C468.4,152 468.6,154 469.6,155" stroke="#909090" stroke-width="1.6" fill="none" />
<path d="M485.4,134.6 L487.6,133.4 M485,153.6 L487.4,152.4" stroke="#909090" stroke-width="1.6" fill="none" />
<path d="M482.6,145.6 L489.6,142.4" stroke="#9a9a9a" stroke-width="2.6" fill="none" />
<ellipse cx="555.1" cy="137" rx="21.8" ry="11.8" stroke="#1a1a1a" stroke-width="2.4" fill="#fff" />
<path d="M533.6,139 C536,146.5 545,149.6 555.1,149.6 C565,149.6 574.5,146.5 576.8,139" stroke="#1a1a1a" stroke-width="1.8" fill="none" />
<ellipse cx="555.1" cy="136.4" rx="19.2" ry="9.8" stroke="#1a1a1a" stroke-width="1.0" fill="none" />
<path d="M538.7,130.4 L542.6,124.4 L555.3,121.8 L568.2,124.4 L572,130.4 L572,134.6 L568.2,140 L552,142.8 L542.6,140 L538.7,134.6 Z" stroke="#1a1a1a" stroke-width="1.8" fill="#fff" />
<path d="M538.7,130.4 L542.6,135.6 L552,138.2 L568.2,135.6 L572,130.4" stroke="#1a1a1a" stroke-width="1.2" fill="none" />
<line x1="542.6" y1="135.6" x2="542.6" y2="140" stroke="#1a1a1a" stroke-width="1.1" />
<line x1="552" y1="138.2" x2="552" y2="142.8" stroke="#1a1a1a" stroke-width="1.1" />
<line x1="568.2" y1="135.6" x2="568.2" y2="140" stroke="#1a1a1a" stroke-width="1.1" />
<path d="M543.5,137.6 L551,139.8 M553.5,140.2 L567.5,137.6" stroke="#666" stroke-width="0.8" fill="none" />
<ellipse cx="555.3" cy="129.6" rx="12.6" ry="6.4" stroke="#1a1a1a" stroke-width="2.0" fill="#fff" />
<path d="M546,133 C549,129.4 562.5,129.4 565.4,133" stroke="#1a1a1a" stroke-width="1.1" fill="none" />
</g>
<g opacity="0.106"><text x="0" y="0" font-size="48.5" fill="#000" stroke="#000" stroke-width="1.3" stroke-linejoin="round" style="font-family:'DejaVu Sans',sans-serif" transform="translate(264.7,637.6) rotate(-44.7)">lampamania.pl</text></g>
</svg>
<div class="bar"></div>
</body></html>
